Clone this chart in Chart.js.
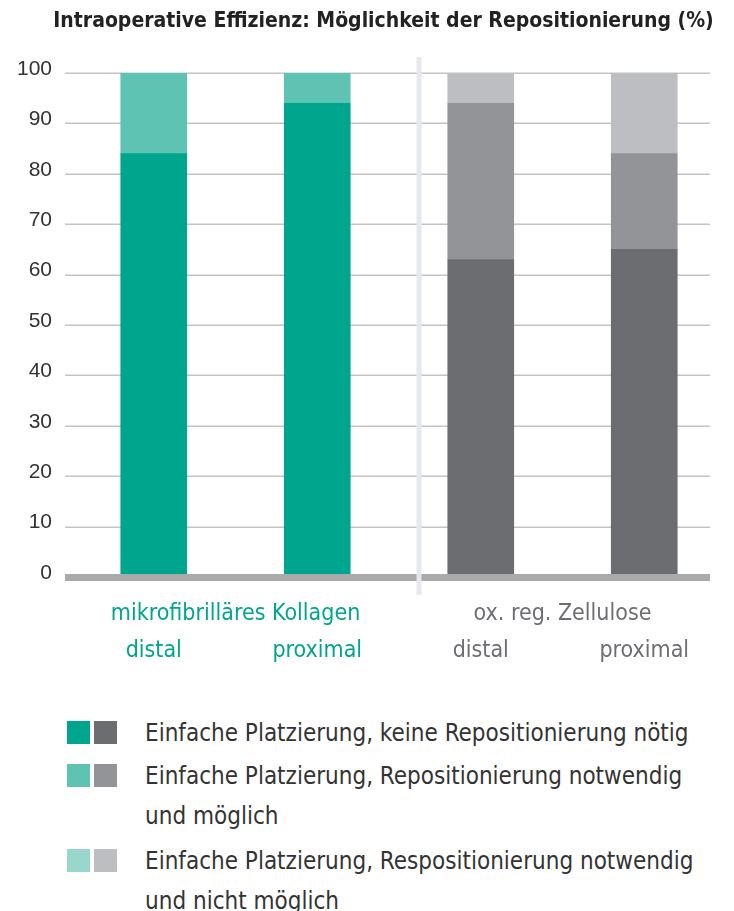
<!DOCTYPE html>
<html><head><meta charset="utf-8">
<script src="https://cdn.jsdelivr.net/npm/chart.js@4/dist/chart.umd.min.js"></script>
<style>
html,body{margin:0;padding:0;background:#fff;}
#wrap{position:relative;width:734px;height:911px;}
#c{position:absolute;left:0;top:0;}
.leg{position:absolute;left:0;font-family:"Liberation Sans Narrow","DejaVu Sans Condensed","Roboto Condensed",sans-serif;font-size:24px;color:#333;line-height:40px;white-space:nowrap;}
.sq{position:absolute;width:23px;height:23px;}
.txt{position:absolute;left:145px;}
</style></head><body>
<div id="wrap"><canvas id="c" width="734" height="690"></canvas><div id="legend"></div></div>
<script>
const categories = ['distal','proximal','distal','proximal'];
const groups = ['mikrofibrilläres Kollagen','ox. reg. Zellulose'];
const titleText = 'Intraoperative Effizienz: Möglichkeit der Repositionierung (%)';
const seriesNames = [
  'Einfache Platzierung, keine Repositionierung nötig',
  'Einfache Platzierung, Repositionierung notwendig und möglich',
  'Einfache Platzierung, Respositionierung notwendig und nicht möglich'
];
const keineRepo = [84, 94, 63, 65];
const repoMoeglich = [16, 6, 31, 19];
const repoNichtMoeglich = [0, 0, 6, 16];
const yTicks = [0,10,20,30,40,50,60,70,80,90,100];

const tealColors = ['#00a58d','#5fc3b3','#97d7cc'];
const grayColors = ['#6c6d71','#939498','#bdbec2'];
const groupColors = ['#00a58d','#6d6e71'];
const catColors = ['#00a58d','#00a58d','#6d6e71','#6d6e71'];

function colorsFor(i){ return categories.map((c,k)=> k<2 ? tealColors[i] : grayColors[i]); }
const FONT = '"Liberation Sans Narrow","DejaVu Sans Condensed",sans-serif';

const deco = {
  id:'deco',
  beforeDatasetsDraw(chart){
    const {ctx, chartArea:a, scales:{y}} = chart;
    ctx.save();
    ctx.strokeStyle = '#c4c4c4'; ctx.lineWidth = 1.5;
    yTicks.forEach(v=>{ if(v===0) return; const py=Math.round(y.getPixelForValue(v))+0.25;
      ctx.beginPath(); ctx.moveTo(a.left-7,py); ctx.lineTo(a.right-16,py); ctx.stroke(); });
    // title
    ctx.fillStyle = '#222';
    ctx.font = 'bold 21px ' + FONT;
    ctx.textAlign = 'center'; ctx.textBaseline = 'middle';
    ctx.fillText(titleText, ((a.left-7)+(a.right-16))/2 - 4, 22);
    ctx.restore();
  },
  afterDatasetsDraw(chart){
    const {ctx, chartArea:a, scales:{x,y}} = chart;
    ctx.save();
    const py = y.getPixelForValue(0);
    ctx.fillStyle = '#a9aaac';
    ctx.fillRect(a.left-7, py-3, a.right-16-(a.left-7), 7);
    const sx = (x.getPixelForValue(1)+x.getPixelForValue(2))/2 + 20;
    ctx.fillStyle = '#e5e8ec';
    ctx.fillRect(sx-2.5, a.top-16, 5, py+18-(a.top-16));
    ctx.restore();
  }
};

new Chart(document.getElementById('c'), {
  type:'bar',
  data:{ labels: categories, datasets:[
    {label:seriesNames[0], data:keineRepo, backgroundColor:colorsFor(0)},
    {label:seriesNames[1], data:repoMoeglich, backgroundColor:colorsFor(1)},
    {label:seriesNames[2], data:repoNichtMoeglich, backgroundColor:colorsFor(2)}
  ]},
  options:{
    responsive:false, animation:false, events:[],
    layout:{padding:{left:0,right:8,top:73,bottom:18}},
    datasets:{bar:{barThickness:66, borderWidth:0}},
    plugins:{ legend:{display:false}, tooltip:{enabled:false}, title:{display:false} },
    scales:{
      y:{stacked:true, min:0, max:100, border:{display:false}, grid:{display:false, drawTicks:false},
        afterFit(s){ s.width = 72; },
        afterBuildTicks(s){ s.ticks = yTicks.map(v=>({value:v})); },
        ticks:{color:'#333', padding:20, labelOffset:-4, font:{family:'"Liberation Sans",Arial,sans-serif', size:21}}},
      x:{stacked:true, weight:1, border:{display:false}, grid:{display:false, drawTicks:false},
        afterFit(s){ s.height = 40; },
        ticks:{color:catColors, padding:5, maxRotation:0, font:{family:FONT, size:23}}},
      x2:{type:'category', labels:groups, position:'bottom', weight:0, offset:true,
        border:{display:false}, grid:{display:false, drawTicks:false},
        afterFit(s){ s.height = 55; },
        ticks:{color:groupColors, padding:23, maxRotation:0, font:{family:FONT, size:23}}}
    }
  },
  plugins:[deco]
});

// legend
const legRows = [
  {top:718, lines:['Einfache Platzierung, keine Repositionierung nötig']},
  {top:761, lines:['Einfache Platzierung, Repositionierung notwendig','und möglich']},
  {top:846, lines:['Einfache Platzierung, Respositionierung notwendig','und nicht möglich']}
];
const lg = document.getElementById('legend');
legRows.forEach((r,i)=>{
  const s1=document.createElement('div'); s1.className='sq'; s1.style.left='67px'; s1.style.top=(r.top+3)+'px'; s1.style.background=tealColors[i]; lg.appendChild(s1);
  const s2=document.createElement('div'); s2.className='sq'; s2.style.left='94px'; s2.style.top=(r.top+3)+'px'; s2.style.background=grayColors[i]; lg.appendChild(s2);
  r.lines.forEach((t,j)=>{
    const d=document.createElement('div'); d.className='leg txt'; d.style.top=(r.top-5+j*40)+'px'; d.textContent=t; lg.appendChild(d);
  });
});
</script>
</body></html>
